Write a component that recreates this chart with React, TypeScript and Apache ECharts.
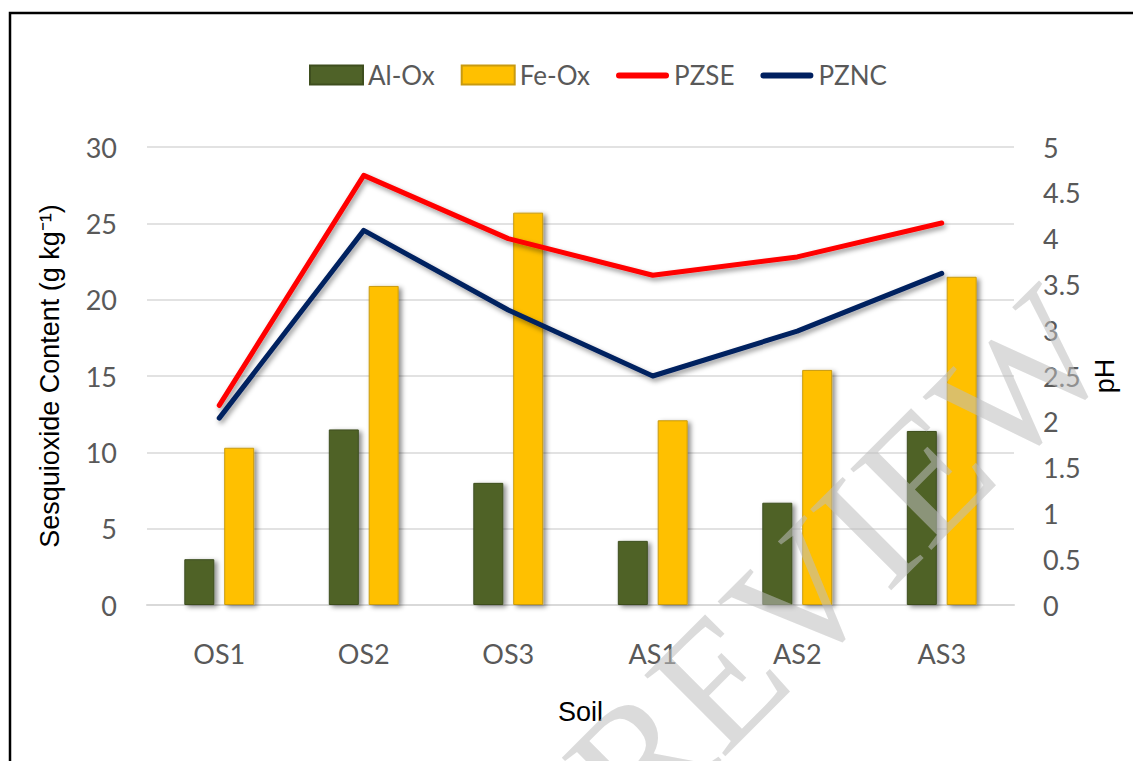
import React, { useEffect, useRef } from "react";
import * as echarts from "echarts";

const categories = ["OS1", "OS2", "OS3", "AS1", "AS2", "AS3"];
const alOx = [3.0, 11.5, 8.0, 4.2, 6.7, 11.4];
const feOx = [10.3, 20.9, 25.7, 12.1, 15.4, 21.5];
const pzse = [2.18, 4.69, 4.0, 3.6, 3.8, 4.17];
const pznc = [2.04, 4.09, 3.22, 2.5, 2.99, 3.62];
const leftTicks = { min: 0, max: 30, interval: 5 };
const rightTicks = { min: 0, max: 5, interval: 0.5 };

const tickFont = "Lato, 'Open Sans', sans-serif";
const titleFont = "'Liberation Sans', Arial, sans-serif";

const lineIcon =
  "path://M0,0L0.01,0L0,0ZM0,19L0.01,19L0,19ZM3,7L50,7A3,3 0 0 1 50,13L3,13A3,3 0 0 1 3,7Z";

export default function App() {
  const ref = useRef<HTMLDivElement>(null);
  useEffect(() => {
    if (!ref.current) return;
    const chart = echarts.init(ref.current, undefined, { renderer: "svg" });
    const barShadow = {
      shadowColor: "rgba(0,0,0,0.45)",
      shadowBlur: 5,
      shadowOffsetX: 3,
      shadowOffsetY: 2,
    };
    const lineShadow = {
      shadowColor: "rgba(0,0,0,0.4)",
      shadowBlur: 5,
      shadowOffsetX: 2,
      shadowOffsetY: 3,
    };
    chart.setOption({
      animation: false,
      backgroundColor: "#ffffff",
      graphic: [
        {
          type: "rect",
          shape: { x: 10, y: 13, width: 1200, height: 800 },
          style: { fill: "none", stroke: "#000000", lineWidth: 2.5 },
          silent: true,
          z: 100,
        },
        {
          type: "text",
          x: 838,
          y: 560,
          rotation: (45 * Math.PI) / 180,
          style: {
            text: "REVIEW",
            font: "175px 'Liberation Serif', 'DejaVu Serif', serif",
            fill: "rgba(190,190,190,0.55)",
            align: "center",
            verticalAlign: "middle",
          },
          silent: true,
          z: 50,
        },
      ],
      legend: {
        top: 57,
        left: 304,
        itemWidth: 53,
        itemHeight: 19,
        itemGap: 26,
        textStyle: { fontSize: 26, color: "#595959", fontFamily: tickFont },
        data: [
          { name: "Al-Ox", icon: "rect" },
          { name: "Fe-Ox", icon: "rect" },
          { name: "PZSE", icon: lineIcon },
          { name: "PZNC", icon: lineIcon },
        ],
      },
      grid: { left: 147, right: 119, top: 147, bottom: 156 },
      xAxis: {
        type: "category",
        data: categories,
        name: "Soil",
        nameLocation: "middle",
        nameGap: 93,
        nameTextStyle: { fontSize: 27, color: "#000000", fontFamily: titleFont },
        axisLine: { show: true, lineStyle: { color: "#d9d9d9", width: 2 } },
        axisTick: { show: false },
        axisLabel: { fontSize: 27, color: "#595959", fontFamily: tickFont, margin: 35 },
      },
      yAxis: [
        {
          type: "value",
          ...leftTicks,
          name: "Sesquioxide Content (g kg⁻¹)",
          nameLocation: "middle",
          nameGap: 84,
          nameTextStyle: { fontSize: 27, color: "#000000", fontFamily: titleFont },
          axisLabel: { fontSize: 27, color: "#595959", fontFamily: tickFont, margin: 30 },
          splitLine: { lineStyle: { color: "#d9d9d9", width: 1.5 } },
          axisLine: { show: false },
          axisTick: { show: false },
        },
        {
          type: "value",
          ...rightTicks,
          name: "pH",
          nameLocation: "middle",
          nameGap: 62,
          nameTextStyle: { fontSize: 27, color: "#000000", fontFamily: titleFont },
          axisLabel: { fontSize: 27, color: "#595959", fontFamily: tickFont, margin: 29 },
          splitLine: { show: false },
          axisLine: { show: false },
          axisTick: { show: false },
        },
      ],
      series: [
        {
          name: "Al-Ox",
          type: "bar",
          data: alOx,
          barWidth: 30,
          barGap: "33%",
          itemStyle: { color: "#4f6228", borderColor: "#3e4e1e", borderWidth: 1, ...barShadow },
        },
        {
          name: "Fe-Ox",
          type: "bar",
          data: feOx,
          barWidth: 30,
          barGap: "33%",
          itemStyle: { color: "#ffc000", borderColor: "#c89a10", borderWidth: 1, ...barShadow },
        },
        {
          name: "PZSE",
          type: "line",
          yAxisIndex: 1,
          data: pzse,
          symbol: "none",
          itemStyle: { color: "#ff0000" },
          lineStyle: { color: "#ff0000", width: 5, cap: "round", join: "round", ...lineShadow },
          z: 5,
        },
        {
          name: "PZNC",
          type: "line",
          yAxisIndex: 1,
          data: pznc,
          symbol: "none",
          itemStyle: { color: "#002060" },
          lineStyle: { color: "#002060", width: 5, cap: "round", join: "round", ...lineShadow },
          z: 5,
        },
      ],
    });
    return () => chart.dispose();
  }, []);
  return (
    <div
      ref={ref}
      style={{ position: "absolute", left: 0, top: 0, width: 1133, height: 761 }}
    />
  );
}
